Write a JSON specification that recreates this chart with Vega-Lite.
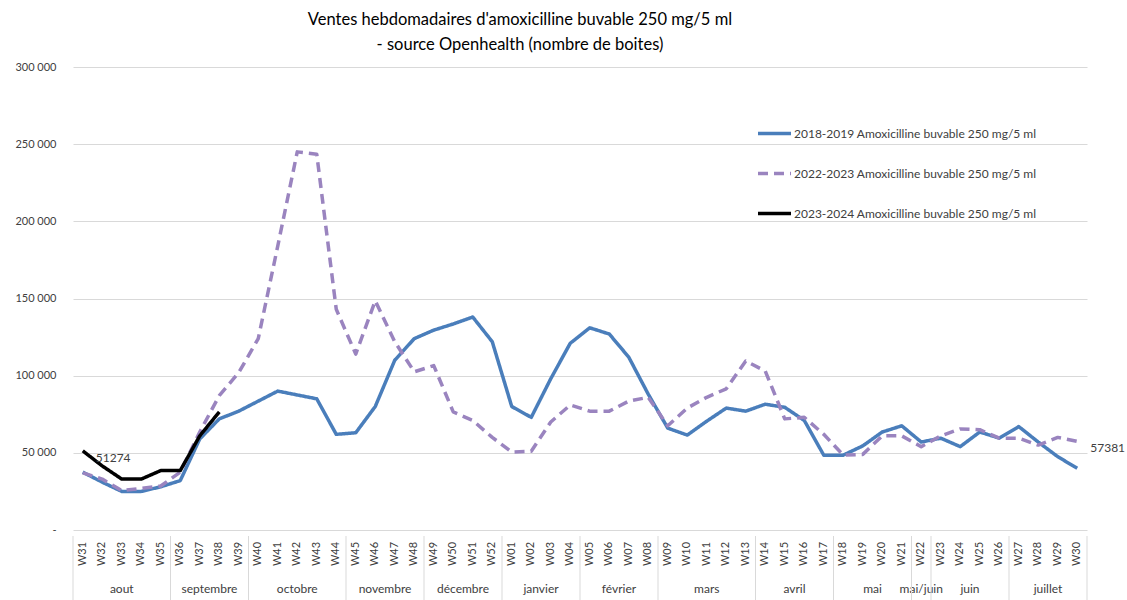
{
  "$schema": "https://vega.github.io/schema/vega-lite/v6.json",
  "background": "white",
  "padding": {"left": 14, "top": 11, "right": 0, "bottom": 0},
  "spacing": 0,
  "title": {
    "text": ["Ventes hebdomadaires d'amoxicilline buvable 250 mg/5 ml", "- source Openhealth (nombre de boites)"],
    "font": "Lato", "fontSize": 16.5, "fontWeight": "normal", "color": "#000000",
    "lineHeight": 25, "anchor": "middle", "offset": 8, "dx": -50
  },
  "config": {
    "view": {"stroke": null},
    "font": "Lato",
    "legend": {"labelFont": "Lato", "labelFontSize": 12, "labelColor": "#404040"}
  },
  "datasets": {
    "ventes": [
      {"week":"W31","serie":"2018-2019 Amoxicilline buvable 250 mg/5 ml","value":37500},
      {"week":"W32","serie":"2018-2019 Amoxicilline buvable 250 mg/5 ml","value":31000},
      {"week":"W33","serie":"2018-2019 Amoxicilline buvable 250 mg/5 ml","value":25000},
      {"week":"W34","serie":"2018-2019 Amoxicilline buvable 250 mg/5 ml","value":25000},
      {"week":"W35","serie":"2018-2019 Amoxicilline buvable 250 mg/5 ml","value":28000},
      {"week":"W36","serie":"2018-2019 Amoxicilline buvable 250 mg/5 ml","value":32000},
      {"week":"W37","serie":"2018-2019 Amoxicilline buvable 250 mg/5 ml","value":59000},
      {"week":"W38","serie":"2018-2019 Amoxicilline buvable 250 mg/5 ml","value":72000},
      {"week":"W39","serie":"2018-2019 Amoxicilline buvable 250 mg/5 ml","value":77000},
      {"week":"W40","serie":"2018-2019 Amoxicilline buvable 250 mg/5 ml","value":83500},
      {"week":"W41","serie":"2018-2019 Amoxicilline buvable 250 mg/5 ml","value":90000},
      {"week":"W42","serie":"2018-2019 Amoxicilline buvable 250 mg/5 ml","value":87500},
      {"week":"W43","serie":"2018-2019 Amoxicilline buvable 250 mg/5 ml","value":85000},
      {"week":"W44","serie":"2018-2019 Amoxicilline buvable 250 mg/5 ml","value":62000},
      {"week":"W45","serie":"2018-2019 Amoxicilline buvable 250 mg/5 ml","value":63000},
      {"week":"W46","serie":"2018-2019 Amoxicilline buvable 250 mg/5 ml","value":80000},
      {"week":"W47","serie":"2018-2019 Amoxicilline buvable 250 mg/5 ml","value":110000},
      {"week":"W48","serie":"2018-2019 Amoxicilline buvable 250 mg/5 ml","value":124000},
      {"week":"W49","serie":"2018-2019 Amoxicilline buvable 250 mg/5 ml","value":129500},
      {"week":"W50","serie":"2018-2019 Amoxicilline buvable 250 mg/5 ml","value":133500},
      {"week":"W51","serie":"2018-2019 Amoxicilline buvable 250 mg/5 ml","value":138000},
      {"week":"W52","serie":"2018-2019 Amoxicilline buvable 250 mg/5 ml","value":122000},
      {"week":"W01","serie":"2018-2019 Amoxicilline buvable 250 mg/5 ml","value":80000},
      {"week":"W02","serie":"2018-2019 Amoxicilline buvable 250 mg/5 ml","value":73000},
      {"week":"W03","serie":"2018-2019 Amoxicilline buvable 250 mg/5 ml","value":98000},
      {"week":"W04","serie":"2018-2019 Amoxicilline buvable 250 mg/5 ml","value":121000},
      {"week":"W05","serie":"2018-2019 Amoxicilline buvable 250 mg/5 ml","value":131000},
      {"week":"W06","serie":"2018-2019 Amoxicilline buvable 250 mg/5 ml","value":127000},
      {"week":"W07","serie":"2018-2019 Amoxicilline buvable 250 mg/5 ml","value":112000},
      {"week":"W08","serie":"2018-2019 Amoxicilline buvable 250 mg/5 ml","value":88000},
      {"week":"W09","serie":"2018-2019 Amoxicilline buvable 250 mg/5 ml","value":66000},
      {"week":"W10","serie":"2018-2019 Amoxicilline buvable 250 mg/5 ml","value":61500},
      {"week":"W11","serie":"2018-2019 Amoxicilline buvable 250 mg/5 ml","value":70500},
      {"week":"W12","serie":"2018-2019 Amoxicilline buvable 250 mg/5 ml","value":79000},
      {"week":"W13","serie":"2018-2019 Amoxicilline buvable 250 mg/5 ml","value":77000},
      {"week":"W14","serie":"2018-2019 Amoxicilline buvable 250 mg/5 ml","value":81500},
      {"week":"W15","serie":"2018-2019 Amoxicilline buvable 250 mg/5 ml","value":79500},
      {"week":"W16","serie":"2018-2019 Amoxicilline buvable 250 mg/5 ml","value":71000},
      {"week":"W17","serie":"2018-2019 Amoxicilline buvable 250 mg/5 ml","value":48500},
      {"week":"W18","serie":"2018-2019 Amoxicilline buvable 250 mg/5 ml","value":48500},
      {"week":"W19","serie":"2018-2019 Amoxicilline buvable 250 mg/5 ml","value":54500},
      {"week":"W20","serie":"2018-2019 Amoxicilline buvable 250 mg/5 ml","value":63500},
      {"week":"W21","serie":"2018-2019 Amoxicilline buvable 250 mg/5 ml","value":67500},
      {"week":"W22","serie":"2018-2019 Amoxicilline buvable 250 mg/5 ml","value":57000},
      {"week":"W23","serie":"2018-2019 Amoxicilline buvable 250 mg/5 ml","value":59500},
      {"week":"W24","serie":"2018-2019 Amoxicilline buvable 250 mg/5 ml","value":54000},
      {"week":"W25","serie":"2018-2019 Amoxicilline buvable 250 mg/5 ml","value":63500},
      {"week":"W26","serie":"2018-2019 Amoxicilline buvable 250 mg/5 ml","value":59500},
      {"week":"W27","serie":"2018-2019 Amoxicilline buvable 250 mg/5 ml","value":67000},
      {"week":"W28","serie":"2018-2019 Amoxicilline buvable 250 mg/5 ml","value":57000},
      {"week":"W29","serie":"2018-2019 Amoxicilline buvable 250 mg/5 ml","value":47500},
      {"week":"W30","serie":"2018-2019 Amoxicilline buvable 250 mg/5 ml","value":40000},
      {"week":"W31","serie":"2022-2023 Amoxicilline buvable 250 mg/5 ml","value":37000},
      {"week":"W32","serie":"2022-2023 Amoxicilline buvable 250 mg/5 ml","value":33000},
      {"week":"W33","serie":"2022-2023 Amoxicilline buvable 250 mg/5 ml","value":25500},
      {"week":"W34","serie":"2022-2023 Amoxicilline buvable 250 mg/5 ml","value":27000},
      {"week":"W35","serie":"2022-2023 Amoxicilline buvable 250 mg/5 ml","value":28500},
      {"week":"W36","serie":"2022-2023 Amoxicilline buvable 250 mg/5 ml","value":37500},
      {"week":"W37","serie":"2022-2023 Amoxicilline buvable 250 mg/5 ml","value":63500},
      {"week":"W38","serie":"2022-2023 Amoxicilline buvable 250 mg/5 ml","value":87000},
      {"week":"W39","serie":"2022-2023 Amoxicilline buvable 250 mg/5 ml","value":102000},
      {"week":"W40","serie":"2022-2023 Amoxicilline buvable 250 mg/5 ml","value":124000},
      {"week":"W41","serie":"2022-2023 Amoxicilline buvable 250 mg/5 ml","value":184000},
      {"week":"W42","serie":"2022-2023 Amoxicilline buvable 250 mg/5 ml","value":245000},
      {"week":"W43","serie":"2022-2023 Amoxicilline buvable 250 mg/5 ml","value":243500},
      {"week":"W44","serie":"2022-2023 Amoxicilline buvable 250 mg/5 ml","value":143000},
      {"week":"W45","serie":"2022-2023 Amoxicilline buvable 250 mg/5 ml","value":114000},
      {"week":"W46","serie":"2022-2023 Amoxicilline buvable 250 mg/5 ml","value":148500},
      {"week":"W47","serie":"2022-2023 Amoxicilline buvable 250 mg/5 ml","value":122000},
      {"week":"W48","serie":"2022-2023 Amoxicilline buvable 250 mg/5 ml","value":102500},
      {"week":"W49","serie":"2022-2023 Amoxicilline buvable 250 mg/5 ml","value":106500},
      {"week":"W50","serie":"2022-2023 Amoxicilline buvable 250 mg/5 ml","value":76500},
      {"week":"W51","serie":"2022-2023 Amoxicilline buvable 250 mg/5 ml","value":71000},
      {"week":"W52","serie":"2022-2023 Amoxicilline buvable 250 mg/5 ml","value":60000},
      {"week":"W01","serie":"2022-2023 Amoxicilline buvable 250 mg/5 ml","value":50500},
      {"week":"W02","serie":"2022-2023 Amoxicilline buvable 250 mg/5 ml","value":51000},
      {"week":"W03","serie":"2022-2023 Amoxicilline buvable 250 mg/5 ml","value":70000},
      {"week":"W04","serie":"2022-2023 Amoxicilline buvable 250 mg/5 ml","value":81000},
      {"week":"W05","serie":"2022-2023 Amoxicilline buvable 250 mg/5 ml","value":77000},
      {"week":"W06","serie":"2022-2023 Amoxicilline buvable 250 mg/5 ml","value":77000},
      {"week":"W07","serie":"2022-2023 Amoxicilline buvable 250 mg/5 ml","value":83500},
      {"week":"W08","serie":"2022-2023 Amoxicilline buvable 250 mg/5 ml","value":86000},
      {"week":"W09","serie":"2022-2023 Amoxicilline buvable 250 mg/5 ml","value":67500},
      {"week":"W10","serie":"2022-2023 Amoxicilline buvable 250 mg/5 ml","value":79000},
      {"week":"W11","serie":"2022-2023 Amoxicilline buvable 250 mg/5 ml","value":86000},
      {"week":"W12","serie":"2022-2023 Amoxicilline buvable 250 mg/5 ml","value":91500},
      {"week":"W13","serie":"2022-2023 Amoxicilline buvable 250 mg/5 ml","value":109500},
      {"week":"W14","serie":"2022-2023 Amoxicilline buvable 250 mg/5 ml","value":103000},
      {"week":"W15","serie":"2022-2023 Amoxicilline buvable 250 mg/5 ml","value":72000},
      {"week":"W16","serie":"2022-2023 Amoxicilline buvable 250 mg/5 ml","value":73000},
      {"week":"W17","serie":"2022-2023 Amoxicilline buvable 250 mg/5 ml","value":62000},
      {"week":"W18","serie":"2022-2023 Amoxicilline buvable 250 mg/5 ml","value":48500},
      {"week":"W19","serie":"2022-2023 Amoxicilline buvable 250 mg/5 ml","value":49000},
      {"week":"W20","serie":"2022-2023 Amoxicilline buvable 250 mg/5 ml","value":61000},
      {"week":"W21","serie":"2022-2023 Amoxicilline buvable 250 mg/5 ml","value":61000},
      {"week":"W22","serie":"2022-2023 Amoxicilline buvable 250 mg/5 ml","value":54000},
      {"week":"W23","serie":"2022-2023 Amoxicilline buvable 250 mg/5 ml","value":61000},
      {"week":"W24","serie":"2022-2023 Amoxicilline buvable 250 mg/5 ml","value":65500},
      {"week":"W25","serie":"2022-2023 Amoxicilline buvable 250 mg/5 ml","value":65000},
      {"week":"W26","serie":"2022-2023 Amoxicilline buvable 250 mg/5 ml","value":59500},
      {"week":"W27","serie":"2022-2023 Amoxicilline buvable 250 mg/5 ml","value":59500},
      {"week":"W28","serie":"2022-2023 Amoxicilline buvable 250 mg/5 ml","value":55000},
      {"week":"W29","serie":"2022-2023 Amoxicilline buvable 250 mg/5 ml","value":60000},
      {"week":"W30","serie":"2022-2023 Amoxicilline buvable 250 mg/5 ml","value":57381},
      {"week":"W31","serie":"2023-2024 Amoxicilline buvable 250 mg/5 ml","value":51274},
      {"week":"W32","serie":"2023-2024 Amoxicilline buvable 250 mg/5 ml","value":41500},
      {"week":"W33","serie":"2023-2024 Amoxicilline buvable 250 mg/5 ml","value":33000},
      {"week":"W34","serie":"2023-2024 Amoxicilline buvable 250 mg/5 ml","value":33000},
      {"week":"W35","serie":"2023-2024 Amoxicilline buvable 250 mg/5 ml","value":38500},
      {"week":"W36","serie":"2023-2024 Amoxicilline buvable 250 mg/5 ml","value":38500},
      {"week":"W37","serie":"2023-2024 Amoxicilline buvable 250 mg/5 ml","value":61000},
      {"week":"W38","serie":"2023-2024 Amoxicilline buvable 250 mg/5 ml","value":76500}
    ],
    "mois": [
      {"mois":"aout","centre":2},
      {"mois":"septembre","centre":6.5},
      {"mois":"octobre","centre":11},
      {"mois":"novembre","centre":15.5},
      {"mois":"décembre","centre":19.5},
      {"mois":"janvier","centre":23.5},
      {"mois":"février","centre":27.5},
      {"mois":"mars","centre":32},
      {"mois":"avril","centre":36.5},
      {"mois":"mai","centre":40.5},
      {"mois":"mai/juin","centre":43},
      {"mois":"juin","centre":45.5},
      {"mois":"juillet","centre":49.5}
    ],
    "limites": [
      {"b":-0.5},{"b":4.5},{"b":8.5},{"b":13.5},{"b":17.5},{"b":21.5},{"b":25.5},
      {"b":29.5},{"b":34.5},{"b":38.5},{"b":42.5},{"b":43.5},{"b":47.5},{"b":51.5}
    ]
  },
  "vconcat": [
    {
      "width": 1014,
      "height": 463,
      "data": {"name": "ventes"},
      "encoding": {
        "x": {"field": "week", "type": "nominal", "sort": null, "axis": null},
        "y": {
          "field": "value", "type": "quantitative",
          "scale": {"domain": [0, 300000], "nice": false},
          "axis": {
            "title": null, "values": [0, 50000, 100000, 150000, 200000, 250000, 300000],
            "domain": false, "ticks": false, "grid": true, "gridColor": "#d9d9d9", "gridWidth": 1,
            "labelFont": "Lato", "labelFontSize": 11, "labelColor": "#404040", "labelPadding": 17,
            "labelExpr": "datum.value == 0 ? '-' : format(datum.value / 1000, 'd') + ' 000'"
          }
        }
      },
      "layer": [
        {
          "mark": {"type": "line", "strokeWidth": 3.5, "strokeJoin": "round"},
          "encoding": {
            "color": {
              "field": "serie", "type": "nominal",
              "scale": {"domain": ["2018-2019 Amoxicilline buvable 250 mg/5 ml", "2022-2023 Amoxicilline buvable 250 mg/5 ml", "2023-2024 Amoxicilline buvable 250 mg/5 ml"],
                        "range": ["#4a7ebb", "#9a84bf", "#000000"]},
              "legend": {
                "title": null, "orient": "none", "legendX": 683, "legendY": 48,
                "symbolType": "stroke", "symbolSize": 1089, "symbolStrokeWidth": 3.5,
                "labelOffset": 1, "rowPadding": 14, "labelLimit": 400
              }
            },
            "strokeDash": {
              "field": "serie", "type": "nominal",
              "scale": {"domain": ["2018-2019 Amoxicilline buvable 250 mg/5 ml", "2022-2023 Amoxicilline buvable 250 mg/5 ml", "2023-2024 Amoxicilline buvable 250 mg/5 ml"],
                        "range": [[1, 0], [10, 6], [1, 0]]},
              "legend": {
                "title": null, "orient": "none", "legendX": 683, "legendY": 48,
                "symbolType": "stroke", "symbolSize": 1089, "symbolStrokeWidth": 3.5,
                "labelOffset": 1, "rowPadding": 14, "labelLimit": 400
              }
            }
          }
        },
        {
          "transform": [{"filter": "(datum.week == 'W31' && indexof(datum.serie, '2023-2024') == 0) || (datum.week == 'W30' && indexof(datum.serie, '2022-2023') == 0)"}],
          "mark": {"type": "text", "align": "left", "baseline": "middle", "dx": 13, "dy": 7, "font": "Lato", "fontSize": 12, "color": "#404040"},
          "encoding": {"text": {"field": "value", "type": "quantitative", "format": "d"}}
        }
      ]
    },
    {
      "width": 1014,
      "height": 67,
      "resolve": {"scale": {"x": "independent"}},
      "layer": [
        {
          "data": {"name": "ventes"},
          "transform": [{"filter": "indexof(datum.serie, '2018-2019') == 0"}],
          "mark": {"type": "text", "angle": 270, "align": "center", "baseline": "middle", "font": "Lato", "fontSize": 11, "color": "#404040"},
          "encoding": {
            "x": {"field": "week", "type": "nominal", "sort": null, "axis": null},
            "y": {"datum": "semaine", "type": "nominal",
                  "scale": {"domain": ["semaine", "mois"], "type": "point", "padding": 0.457, "align": 0.5625},
                  "axis": null},
            "text": {"field": "week"}
          }
        },
        {
          "data": {"name": "mois"},
          "mark": {"type": "text", "align": "center", "baseline": "middle", "font": "Lato", "fontSize": 12, "color": "#404040"},
          "encoding": {
            "x": {"field": "centre", "type": "quantitative", "scale": {"domain": [-0.5, 51.5], "nice": false, "zero": false}, "axis": null},
            "y": {"datum": "mois", "type": "nominal", "axis": null},
            "text": {"field": "mois"}
          }
        },
        {
          "data": {"name": "limites"},
          "mark": {"type": "rule", "color": "#d9d9d9", "strokeWidth": 1},
          "encoding": {
            "x": {"field": "b", "type": "quantitative", "scale": {"domain": [-0.5, 51.5], "nice": false, "zero": false}, "axis": null}
          }
        }
      ]
    }
  ]
}
